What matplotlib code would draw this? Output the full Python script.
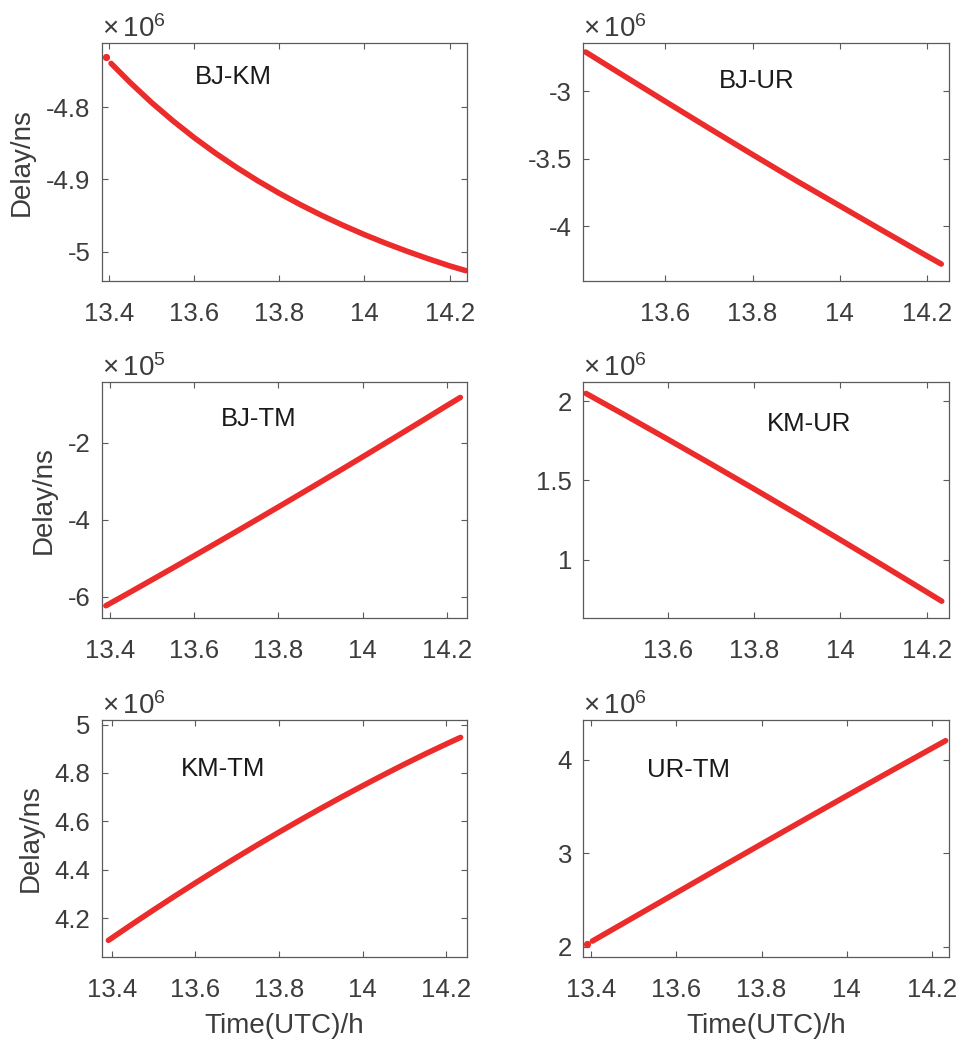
import matplotlib
matplotlib.use("Agg")
import matplotlib.pyplot as plt
from matplotlib.ticker import FormatStrFormatter
import numpy as np

plt.rcParams["font.family"] = ["Liberation Sans", "DejaVu Sans"]
plt.rcParams["mathtext.fontset"] = "custom"
plt.rcParams["mathtext.rm"] = "Liberation Sans"
plt.rcParams["axes.unicode_minus"] = False

# ---- delay series (time in UTC hours, delay in ns) ----
t_bj_km = [13.392, 13.405, 13.45, 13.5, 13.55, 13.6, 13.65, 13.7, 13.75, 13.8,
           13.85, 13.9, 13.95, 14.0, 14.05, 14.1, 14.15, 14.2, 14.238]
d_bj_km = [-4.7313e6, -4.7396e6, -4.7662e6, -4.7937e6, -4.8189e6, -4.8422e6,
           -4.8637e6, -4.8836e6, -4.9021e6, -4.9192e6, -4.9351e6, -4.9499e6,
           -4.9636e6, -4.9764e6, -4.9883e6, -4.9994e6, -5.0098e6, -5.0196e6,
           -5.0262e6]

t_bj_ur = [13.417, 13.5, 13.6, 13.7, 13.8, 13.9, 14.0, 14.1, 14.2, 14.233]
d_bj_ur = [-2.709e6, -2.876e6, -3.076e6, -3.274e6, -3.470e6, -3.663e6,
           -3.850e6, -4.037e6, -4.222e6, -4.282e6]

t_bj_tm = [13.390, 13.45, 13.5, 13.55, 13.6, 13.65, 13.7, 13.75, 13.8, 13.85,
           13.9, 13.95, 14.0, 14.05, 14.1, 14.15, 14.2, 14.2325]
d_bj_tm = [-6.234e5, -5.867e5, -5.558e5, -5.248e5, -4.936e5, -4.622e5,
           -4.306e5, -3.988e5, -3.668e5, -3.346e5, -3.022e5, -2.697e5,
           -2.369e5, -2.039e5, -1.708e5, -1.375e5, -1.039e5, -0.825e5]

t_km_ur = [13.411, 13.5, 13.6, 13.7, 13.8, 13.9, 14.0, 14.1, 14.2, 14.235]
d_km_ur = [2.048e6, 1.9132e6, 1.7597e6, 1.6042e6, 1.4467e6, 1.2872e6,
           1.1257e6, 0.9622e6, 0.7967e6, 0.7385e6]

t_km_tm = [13.392, 13.45, 13.5, 13.55, 13.6, 13.65, 13.7, 13.75, 13.8, 13.85,
           13.9, 13.95, 14.0, 14.05, 14.1, 14.15, 14.2, 14.234]
d_km_tm = [4.1076e6, 4.1758e6, 4.2334e6, 4.2898e6, 4.3451e6, 4.3993e6,
           4.4524e6, 4.5043e6, 4.5551e6, 4.6048e6, 4.6534e6, 4.7008e6,
           4.7471e6, 4.7923e6, 4.8364e6, 4.8790e6, 4.9200e6, 4.9470e6]

t_ur_tm = [13.391, 13.403, 13.5, 13.6, 13.7, 13.8, 13.9, 14.0, 14.1, 14.2, 14.232]
d_ur_tm = [2.0285e6, 2.060e6, 2.314e6, 2.576e6, 2.838e6, 3.098e6,
           3.357e6, 3.614e6, 3.869e6, 4.122e6, 4.203e6]

pairs = ["BJ-KM", "BJ-UR", "BJ-TM", "KM-UR", "KM-TM", "UR-TM"]
times = [t_bj_km, t_bj_ur, t_bj_tm, t_km_ur, t_km_tm, t_ur_tm]
delays = [d_bj_km, d_bj_ur, d_bj_tm, d_km_ur, d_km_tm, d_ur_tm]
exponents = [6, 6, 5, 6, 6, 6]
lone_first = [True, False, False, False, False, True]

x_ticks = [
    [13.4, 13.6, 13.8, 14.0, 14.2],
    [13.6, 13.8, 14.0, 14.2],
    [13.4, 13.6, 13.8, 14.0, 14.2],
    [13.6, 13.8, 14.0, 14.2],
    [13.4, 13.6, 13.8, 14.0, 14.2],
    [13.4, 13.6, 13.8, 14.0, 14.2],
]
y_ticks = [
    [-5.0, -4.9, -4.8],
    [-4.0, -3.5, -3.0],
    [-6, -4, -2],
    [1.0, 1.5, 2.0],
    [4.2, 4.4, 4.6, 4.8, 5.0],
    [2, 3, 4],
]
x_limits = [
    (13.383, 14.2415), (13.411, 14.2514), (13.380, 14.249),
    (13.404, 14.2525), (13.376, 14.250), (13.381, 14.2406),
]
y_limits = [
    (-5.0405, -4.711), (-4.408, -2.640), (-6.545, -0.4156),
    (0.6345, 2.122), (4.040, 5.019), (1.893, 4.424),
]
label_pos = [
    (0.359, 0.856), (0.474, 0.841), (0.430, 0.842),
    (0.617, 0.821), (0.331, 0.793), (0.289, 0.789),
]

W, H = 957, 1041
fig = plt.figure(figsize=(W / 100, H / 100), dpi=100)

col_left = [101.7, 583.0]
col_width = [365.6, 366.3]
row_top = [42.7, 381.7, 720.0]
row_height = [238.3, 236.0, 236.7]

line_color = "#EC2B2B"
axis_color = "#5a5a5a"
text_color = "#3c3c3c"

for i in range(6):
    r, c = divmod(i, 2)
    rect = [col_left[c] / W, 1 - (row_top[r] + row_height[r]) / H,
            col_width[c] / W, row_height[r] / H]
    ax = fig.add_axes(rect)
    scale = 10.0 ** exponents[i]
    t = np.asarray(times[i])
    d = np.asarray(delays[i]) / scale

    if lone_first[i]:
        ax.plot(t[:1], d[:1], "o", color=line_color, markersize=5.2,
                markeredgewidth=0)
        ax.plot(t[1:], d[1:], "-", color=line_color, lw=4.0,
                solid_capstyle="round", solid_joinstyle="round")
    else:
        ax.plot(t, d, "-", color=line_color, lw=4.0,
                solid_capstyle="round", solid_joinstyle="round")

    ax.set_xlim(*x_limits[i])
    ax.set_ylim(*y_limits[i])
    ax.set_xticks(x_ticks[i])
    ax.set_yticks(y_ticks[i])
    ax.xaxis.set_major_formatter(FormatStrFormatter("%g"))
    ax.yaxis.set_major_formatter(FormatStrFormatter("%g"))

    ax.tick_params(direction="in", top=True, right=True, length=4,
                   width=0.8, color=axis_color, labelcolor=text_color,
                   labelsize=18.5)
    ax.tick_params(axis="x", pad=15)
    ax.tick_params(axis="y", pad=8)
    for sp in ax.spines.values():
        sp.set_color(axis_color)
        sp.set_linewidth(0.9)

    ax.annotate(r"$\times\,\mathregular{10^{%d}}$" % exponents[i],
                xy=(0, 1), xycoords="axes fraction",
                xytext=(0, 4), textcoords="offset points",
                ha="left", va="baseline", fontsize=20, color=text_color)

    ax.text(label_pos[i][0], label_pos[i][1], pairs[i],
            transform=ax.transAxes, ha="center", va="center",
            fontsize=18.5, color="#1a1a1a")

    if c == 0:
        ax.set_ylabel("Delay/ns", fontsize=20, color=text_color, labelpad=8)
    if r == 2:
        ax.set_xlabel("Time(UTC)/h", fontsize=20, color=text_color, labelpad=8)

fig.savefig("out.png", dpi=100, facecolor="white")
